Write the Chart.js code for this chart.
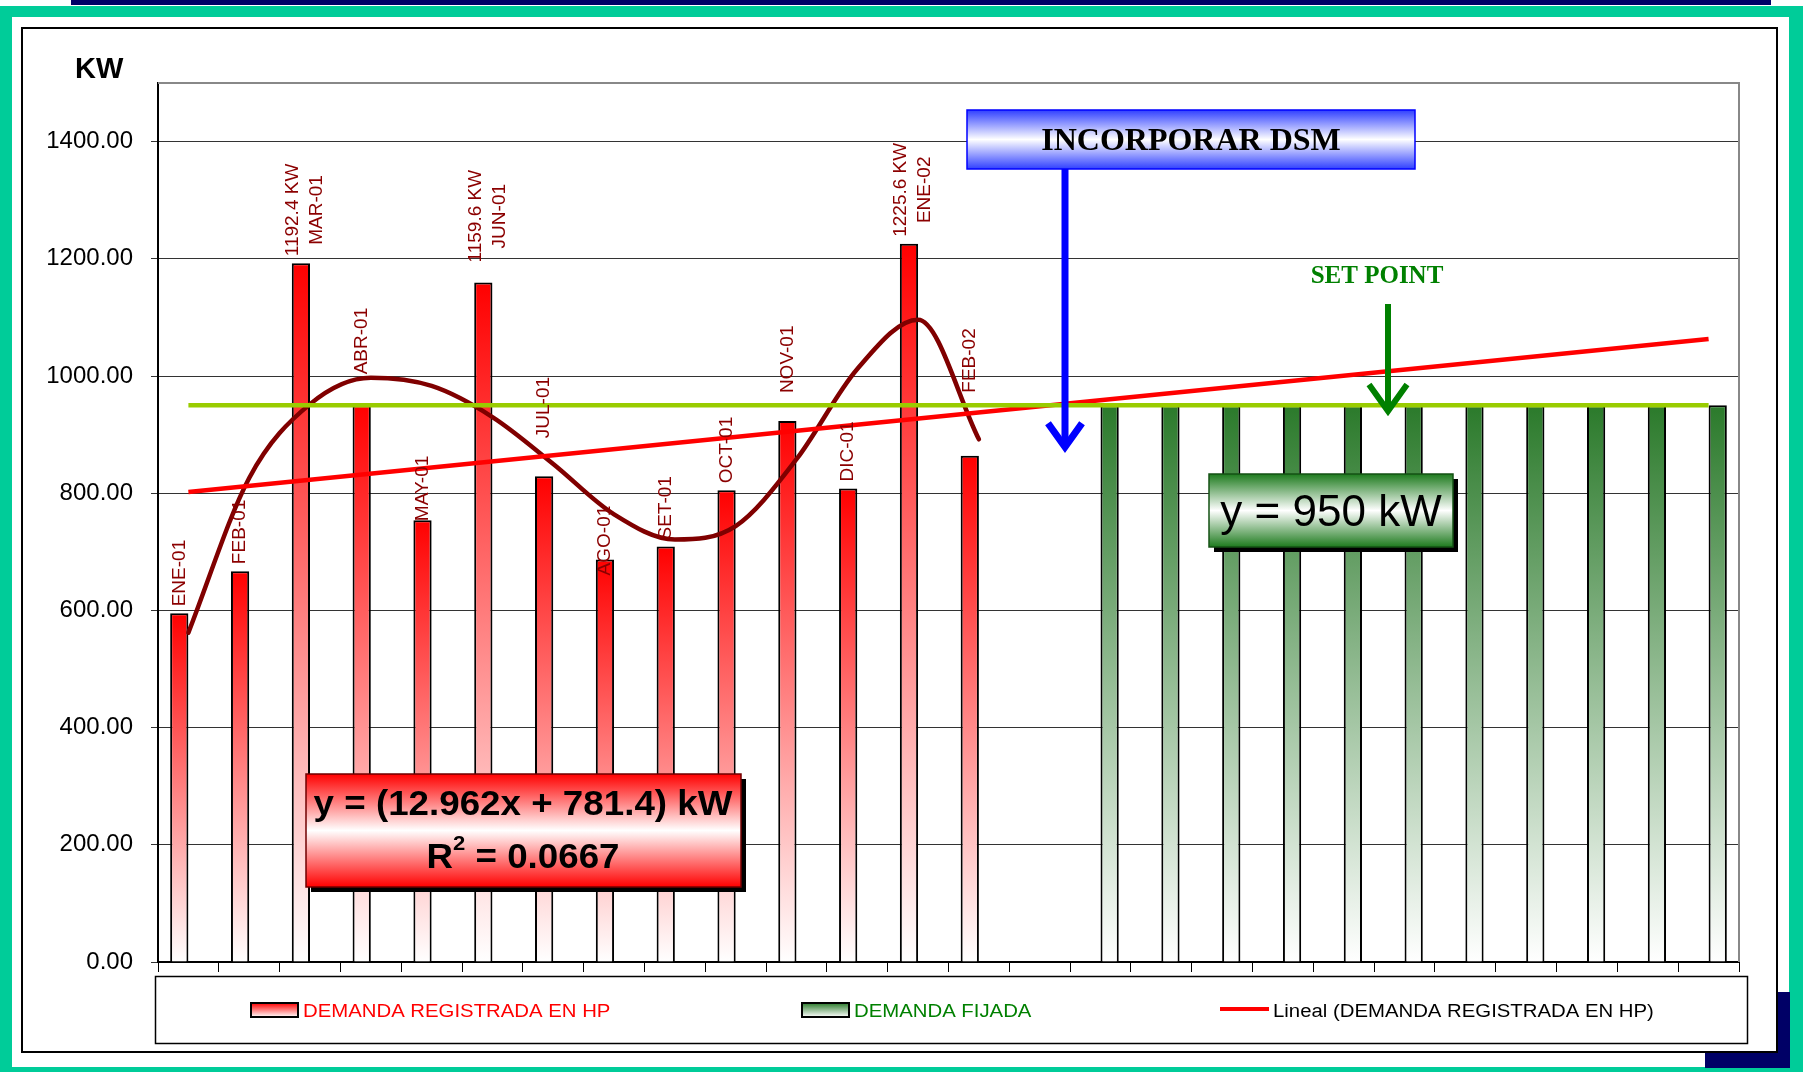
<!DOCTYPE html>
<html>
<head>
<meta charset="utf-8">
<script src="https://cdn.jsdelivr.net/npm/chart.js@4.4.1/dist/chart.umd.min.js"></script>
<style>
  html, body { margin: 0; padding: 0; background: #fff; overflow: hidden; }
  #wrap { width: 1803px; height: 1072px; }
</style>
</head>
<body>
<div id="wrap"><canvas id="grafico" width="1803" height="1072"></canvas></div>
<script>
// categorias (26 posiciones del eje X, solo las 14 primeras tienen nombre)
const meses = ['ENE-01', 'FEB-01', 'MAR-01', 'ABR-01', 'MAY-01', 'JUN-01', 'JUL-01',
  'AGO-01', 'SET-01', 'OCT-01', 'NOV-01', 'DIC-01', 'ENE-02', 'FEB-02',
  '', '', '', '', '', '', '', '', '', '', '', ''];

// demanda registrada en hora punta (kW)
const demandaRegistrada = [595, 667, 1192.4, 950, 754, 1159.6, 829, 687, 709, 805, 923, 808, 1225.6, 864,
  null, null, null, null, null, null, null, null, null, null, null, null];

// demanda fijada despues de DSM (kW)
const demandaFijada = [null, null, null, null, null, null, null, null, null, null, null, null, null, null, null,
  950, 950, 950, 950, 950, 950, 950, 950, 950, 950, 950];

// linea del set point
const setPoint = [950, 950, 950, 950, 950, 950, 950, 950, 950, 950, 950, 950, 950,
  950, 950, 950, 950, 950, 950, 950, 950, 950, 950, 950, 950, 950];

// tendencia lineal (extremos)
const tendenciaLineal = [802, null, null, null, null, null, null, null, null, null, null, null, null,
  null, null, null, null, null, null, null, null, null, null, null, null, 1063];

const tendenciaPoli = [562, 826, 952, 997, 983, 930, 850, 764, 721, 744, 858, 1012, 1096, 892,
  null, null, null, null, null, null, null, null, null, null, null, null];

const picos = ['MAR-01', 'JUN-01', 'ENE-02'];
const yTicks = [0, 200, 400, 600, 800, 1000, 1200, 1400];

const FUENTE = '"Liberation Sans", Arial, sans-serif';
const SERIF = '"Liberation Serif", "Times New Roman", serif';

// etiquetas movidas a mano en el original (px extra sobre la barra)
const ajusteEtiqueta = { 'ABR-01': 24, 'JUN-01': 13, 'JUL-01': 31, 'NOV-01': 21, 'FEB-02': 56, 'AGO-01': -23, 'MAY-01': -8 };

function gradBarra(colorTop) {
  return (c) => {
    const chart = c.chart;
    if (!chart.chartArea || c.raw == null) return colorTop;
    const y = chart.scales.y;
    const g = chart.ctx.createLinearGradient(0, y.getPixelForValue(c.raw), 0, y.getPixelForValue(0));
    g.addColorStop(0, colorTop);
    g.addColorStop(1, '#ffffff');
    return g;
  };
}

function texto(ctx, t, x, y, sx) {
  ctx.save();
  ctx.translate(x, y);
  ctx.scale(sx || 1, 1);
  ctx.fillText(t, 0, 0);
  ctx.restore();
}

function caja(ctx, x, y, w, h, color, borde, sombra) {
  if (sombra) {
    ctx.fillStyle = '#000';
    ctx.fillRect(x + 5, y + 5, w, h);
  }
  const g = ctx.createLinearGradient(0, y, 0, y + h);
  g.addColorStop(0, color);
  g.addColorStop(0.5, '#ffffff');
  g.addColorStop(1, color);
  ctx.fillStyle = g;
  ctx.fillRect(x, y, w, h);
  ctx.strokeStyle = borde;
  ctx.lineWidth = 1.5;
  ctx.strokeRect(x, y, w, h);
}

function flecha(ctx, x, y0, y1, ala, color, ancho) {
  ctx.save();
  ctx.strokeStyle = color;
  ctx.lineWidth = ancho;
  ctx.lineJoin = 'miter';
  ctx.beginPath();
  ctx.moveTo(x, y0);
  ctx.lineTo(x, y1 - 2);
  ctx.stroke();
  ctx.beginPath();
  ctx.moveTo(x - ala, y1 - ala * 1.4);
  ctx.lineTo(x, y1);
  ctx.lineTo(x + ala, y1 - ala * 1.4);
  ctx.stroke();
  ctx.restore();
}

// marco exterior de la lamina
const marco = {
  id: 'marco',
  beforeDraw(chart) {
    const ctx = chart.ctx;
    ctx.save();
    ctx.fillStyle = '#fff';
    ctx.fillRect(0, 0, 1803, 1072);
    ctx.fillStyle = '#000066';
    ctx.fillRect(71, 0, 1700, 5);
    ctx.fillStyle = '#00CC99';
    ctx.fillRect(0, 6, 1803, 1066);
    ctx.fillStyle = '#fff';
    ctx.fillRect(12, 17, 1777, 1050);
    ctx.fillStyle = '#000066';
    ctx.fillRect(1705, 992, 85, 76);
    ctx.fillStyle = '#fff';
    ctx.fillRect(22, 28, 1755, 1024);
    ctx.strokeStyle = '#000';
    ctx.lineWidth = 2;
    ctx.strokeRect(22, 28, 1755, 1024);
    ctx.restore();
  },
  beforeDatasetsDraw(chart) {
    const a = chart.chartArea, ctx = chart.ctx;
    ctx.save();
    ctx.strokeStyle = '#888';
    ctx.lineWidth = 2;
    ctx.beginPath();
    ctx.moveTo(a.left, a.top);
    ctx.lineTo(a.right, a.top);
    ctx.lineTo(a.right, a.bottom);
    ctx.stroke();
    ctx.restore();
  }
};

// etiquetas verticales sobre las barras rojas
const etiquetas = {
  id: 'etiquetas',
  afterDatasetsDraw(chart) {
    const ctx = chart.ctx;
    const idx = chart.data.datasets.findIndex(d => d.label === 'DEMANDA REGISTRADA EN HP');
    const meta = chart.getDatasetMeta(idx);
    ctx.save();
    ctx.font = '19px ' + FUENTE;
    ctx.fillStyle = '#8B0000';
    ctx.textAlign = 'center';
    ctx.textBaseline = 'middle';
    meta.data.forEach((bar, i) => {
      const v = demandaRegistrada[i];
      if (v == null) return;
      const lineas = picos.includes(meses[i]) ? [v.toFixed(1) + ' KW', meses[i]] : [meses[i]];
      const w = Math.max(...lineas.map(l => ctx.measureText(l).width));
      const extra = ajusteEtiqueta[meses[i]] || 0;
      ctx.save();
      ctx.translate(bar.x + (lineas.length > 1 ? 4 : 0), bar.y - 7 - extra);
      ctx.rotate(-Math.PI / 2);
      lineas.forEach((l, k) => ctx.fillText(l, w / 2, (k - (lineas.length - 1) / 2) * 24));
      ctx.restore();
    });
    ctx.restore();
  }
};

// cuadros, flechas, leyenda y titulo del eje
const anotaciones = {
  id: 'anotaciones',
  afterDraw(chart) {
    const ctx = chart.ctx;
    ctx.save();

    ctx.fillStyle = '#000';
    ctx.font = 'bold 29px ' + FUENTE;
    ctx.textAlign = 'left';
    ctx.textBaseline = 'alphabetic';
    ctx.fillText('KW', 75, 78);

    // INCORPORAR DSM
    caja(ctx, 967, 110, 448, 59, '#3040FF', '#0000FF', false);
    ctx.fillStyle = '#000';
    ctx.font = 'bold 32px ' + SERIF;
    ctx.textAlign = 'center';
    ctx.fillText('INCORPORAR DSM', 1191, 150);
    flecha(ctx, 1065, 169, 447, 17, '#0000FF', 7);

    // SET POINT
    ctx.fillStyle = '#008000';
    ctx.font = 'bold 25px ' + SERIF;
    ctx.fillText('SET POINT', 1377, 283);
    flecha(ctx, 1388, 304, 411, 19, '#008000', 6);

    // y = 950 kW
    caja(ctx, 1209, 474, 244, 73, '#1E7B1E', '#145214', true);
    ctx.fillStyle = '#000';
    ctx.font = '44px ' + FUENTE;
    ctx.fillText('y = 950 kW', 1331, 526);

    // ecuacion de la tendencia
    caja(ctx, 306, 774, 435, 113, '#FF0000', '#700000', true);
    ctx.fillStyle = '#000';
    ctx.font = 'bold 35px ' + FUENTE;
    ctx.textAlign = 'center';
    texto(ctx, 'y = (12.962x + 781.4) kW', 523, 815, 1.05);
    ctx.textAlign = 'left';
    const wR = ctx.measureText('R').width;
    const wResto = ctx.measureText(' = 0.0667').width;
    ctx.font = 'bold 21px ' + FUENTE;
    const w2 = ctx.measureText('2').width;
    const total = (wR + w2 + wResto) * 1.05;
    let x0 = 523 - total / 2;
    ctx.font = 'bold 35px ' + FUENTE;
    texto(ctx, 'R', x0, 868, 1.05);
    ctx.font = 'bold 21px ' + FUENTE;
    texto(ctx, '2', x0 + wR * 1.05, 850, 1.05);
    ctx.font = 'bold 35px ' + FUENTE;
    texto(ctx, ' = 0.0667', x0 + (wR + w2) * 1.05, 868, 1.05);

    // leyenda
    ctx.strokeStyle = '#000';
    ctx.lineWidth = 1.5;
    ctx.strokeRect(155.5, 976.5, 1592, 67);
    const ds = chart.data.datasets;
    const regis = ds.find(d => d.label === 'DEMANDA REGISTRADA EN HP');
    const fija = ds.find(d => d.label === 'DEMANDA FIJADA');
    const lin = ds.find(d => d.label === 'Lineal (DEMANDA REGISTRADA EN HP)');
    const muestra = (x, color) => {
      const g = ctx.createLinearGradient(0, 1003, 0, 1017);
      g.addColorStop(0, color);
      g.addColorStop(1, '#ffffff');
      ctx.fillStyle = g;
      ctx.fillRect(x, 1003, 47, 14);
      ctx.strokeStyle = '#000';
      ctx.lineWidth = 2;
      ctx.strokeRect(x, 1003, 47, 14);
    };
    ctx.font = '18px ' + FUENTE;
    ctx.textAlign = 'left';
    muestra(251, '#FF0000');
    ctx.fillStyle = '#FF0000';
    texto(ctx, regis.label, 303, 1017, 1.13);
    muestra(802, '#2B7A2B');
    ctx.fillStyle = '#008000';
    texto(ctx, fija.label, 854, 1017, 1.13);
    ctx.strokeStyle = lin.borderColor;
    ctx.lineWidth = 4;
    ctx.beginPath();
    ctx.moveTo(1220, 1009);
    ctx.lineTo(1269, 1009);
    ctx.stroke();
    ctx.fillStyle = '#000';
    texto(ctx, lin.label, 1273, 1017, 1.13);

    ctx.restore();
  }
};

new Chart(document.getElementById('grafico'), {
  data: {
    labels: meses,
    datasets: [
      {
        type: 'line', label: 'Set point', data: setPoint,
        borderColor: '#99CC00', borderWidth: 4.5, pointRadius: 0, fill: false
      },
      {
        type: 'line', label: 'Lineal (DEMANDA REGISTRADA EN HP)', data: tendenciaLineal,
        borderColor: '#FF0000', borderWidth: 4.5, pointRadius: 0, fill: false, spanGaps: true
      },
      {
        type: 'line', label: 'Polinomica (DEMANDA REGISTRADA EN HP)', data: tendenciaPoli,
        borderColor: '#800000', borderWidth: 4.5, pointRadius: 0, fill: false,
        cubicInterpolationMode: 'monotone', borderCapStyle: 'round'
      },
      {
        type: 'bar', label: 'DEMANDA REGISTRADA EN HP', data: demandaRegistrada,
        backgroundColor: gradBarra('#FF0000'), borderColor: '#000', borderWidth: 2,
        categoryPercentage: 0.6, barPercentage: 1.0
      },
      {
        type: 'bar', label: 'DEMANDA FIJADA', data: demandaFijada,
        backgroundColor: gradBarra('#2B7A2B'), borderColor: '#000', borderWidth: 2,
        categoryPercentage: 0.6, barPercentage: 1.0
      }
    ]
  },
  options: {
    responsive: false,
    animation: false,
    devicePixelRatio: 1,
    layout: { padding: { left: 0, top: 83, right: 64, bottom: 100 } },
    plugins: {
      legend: { display: false },
      tooltip: { enabled: false },
      title: { display: false }
    },
    scales: {
      x: {
        type: 'category',
        grid: { offset: true, drawOnChartArea: false, color: '#000', tickLength: 10, lineWidth: 1 },
        border: { color: '#000', width: 2 },
        ticks: { display: false },
        afterFit: (s) => { s.height = 10; }
      },
      y: {
        min: 0,
        max: 1500,
        afterBuildTicks: (s) => { s.ticks = yTicks.map(v => ({ value: v })); },
        grid: { color: '#333', lineWidth: 1, tickLength: 7 },
        border: { color: '#000', width: 2 },
        ticks: {
          color: '#000',
          padding: 18,
          font: { family: FUENTE, size: 24 },
          callback: (v) => Number(v).toFixed(2)
        },
        afterFit: (s) => { s.width = 158; }
      }
    }
  },
  plugins: [marco, etiquetas, anotaciones]
});
</script>
</body>
</html>
